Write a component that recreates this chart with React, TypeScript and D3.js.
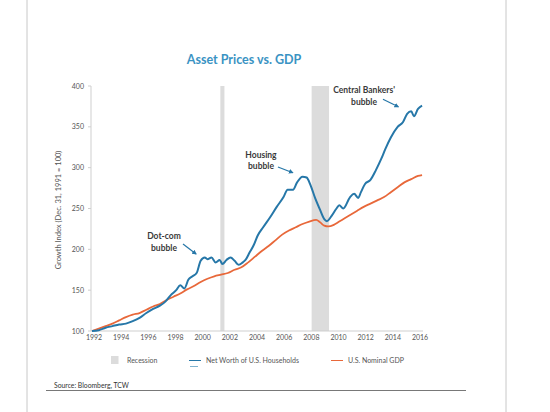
import React from "react";
import * as d3 from "d3";

const yearTicks = [1992, 1994, 1996, 1998, 2000, 2002, 2004, 2006, 2008, 2010, 2012, 2014, 2016];
const valueTicks = [100, 150, 200, 250, 300, 350, 400];

const netWorthYears = [1992.0, 1992.5, 1993.0, 1993.5, 1994.0, 1994.5, 1995.0, 1995.5, 1996.0, 1996.5, 1997.0, 1997.4, 1997.8, 1998.2, 1998.5, 1998.8, 1999.1, 1999.4, 1999.7, 2000.0, 2000.3, 2000.5, 2000.8, 2001.1, 2001.4, 2001.6, 2001.9, 2002.2, 2002.5, 2002.8, 2003.1, 2003.3, 2003.6, 2003.9, 2004.2, 2004.6, 2005.1, 2005.6, 2006.1, 2006.4, 2006.8, 2007.1, 2007.5, 2007.8, 2008.1, 2008.4, 2008.8, 2009.1, 2009.3, 2009.6, 2010.0, 2010.2, 2010.5, 2011.0, 2011.3, 2011.6, 2011.8, 2012.1, 2012.5, 2012.9, 2013.3, 2013.6, 2014.0, 2014.5, 2014.9, 2015.2, 2015.5, 2015.7, 2016.0, 2016.3];
const netWorthValues = [100, 101, 104, 106, 108, 109, 112, 116, 122, 127, 131, 136, 144, 150, 156, 152, 163, 167, 171, 186, 190, 188, 190, 184, 187, 182, 187, 190, 186, 181, 184, 187, 196, 205, 217, 227, 239, 252, 264, 273, 273, 282, 289, 288, 278, 264, 248, 237, 234.5, 240, 250, 254, 250, 264, 268, 263, 270, 280, 285, 297, 311, 323, 337, 350, 356, 366, 369, 363, 372, 376];

const gdpYears = [1992.0, 1992.5, 1993.0, 1993.5, 1994.0, 1994.5, 1995.0, 1995.5, 1996.0, 1996.5, 1997.0, 1997.5, 1998.0, 1998.5, 1999.0, 1999.5, 2000.0, 2000.5, 2001.0, 2001.5, 2002.0, 2002.5, 2003.0, 2003.5, 2004.0, 2004.5, 2005.0, 2005.5, 2006.0, 2006.5, 2007.0, 2007.5, 2008.0, 2008.5, 2008.8, 2009.1, 2009.4, 2009.8, 2010.2, 2010.6, 2011.0, 2011.5, 2012.0, 2012.5, 2013.0, 2013.5, 2014.0, 2014.5, 2015.0, 2015.5, 2016.0, 2016.3];
const gdpValues = [100, 103, 106, 109, 113, 117, 120, 122, 126, 130, 133, 138, 142, 146, 151, 155, 160, 164, 167, 169, 171, 175, 178, 184, 191, 198, 204, 211, 218, 223, 227, 231, 234, 236, 233, 229, 228, 230, 234, 238, 242, 247, 252, 256, 260, 264, 270, 276, 282, 286, 290, 291];

const recessionStarts = [2001.45, 2008.17];
const recessionEnds = [2001.75, 2009.45];

const annotationLines = [["Dot-com", "bubble"], ["Housing", "bubble"], ["Central Bankers'", "bubble"]];
const annotationYears = [1997.3, 2004.44, 2012.03];
const annotationValues = [212.6, 312.4, 391.2];
const arrowFromYears = [1998.7, 2005.69, 2013.42];
const arrowFromValues = [206.5, 300.8, 383.7];
const arrowToYears = [1999.66, 2006.78, 2014.55];
const arrowToValues = [194.3, 293.8, 374.6];

const legendLabels = ["Recession", "Net Worth of U.S. Households", "U.S. Nominal GDP"];

const BLUE = "#2677a8";
const ORANGE = "#e8683a";
const GRAY = "#dcdcdc";
const FONT = "Lato, 'Open Sans', sans-serif";

export default function App() {
  const x = d3.scaleLinear().domain([1992, 2016]).range([92, 418]);
  const y = d3.scaleLinear().domain([100, 400]).range([331, 86]);

  const nw = netWorthYears.map((yr, i) => [yr, netWorthValues[i]] as [number, number]);
  const gdp = gdpYears.map((yr, i) => [yr, gdpValues[i]] as [number, number]);
  const line = d3
    .line<[number, number]>()
    .x((d) => x(d[0]))
    .y((d) => y(d[1]))
    .curve(d3.curveMonotoneX);

  return (
    <svg width={550} height={412} style={{ position: "absolute", left: 0, top: 0, background: "#fff" }}>
      <defs>
        <marker id="arr" viewBox="0 0 10 10" refX="8" refY="5" markerWidth="4" markerHeight="4" orient="auto">
          <path d="M0,0 L10,5 L0,10 z" fill={BLUE} />
        </marker>
      </defs>
      <rect x={0} y={0} width={550} height={412} fill="#fff" />
      <line x1={27} x2={27} y1={0} y2={412} stroke="#c8c8c8" strokeWidth={1} />
      <line x1={506} x2={506} y1={0} y2={412} stroke="#c8c8c8" strokeWidth={1} />

      <text x={244} y={64} textAnchor="middle" fontFamily={FONT} fontWeight="bold" fontSize={12.5} fill="#3a93c3">
        Asset Prices vs. GDP
      </text>

      {recessionStarts.map((s, i) => (
        <rect key={i} x={x(s)} y={86} width={x(recessionEnds[i]) - x(s)} height={245} fill={GRAY} />
      ))}

      <line x1={91} x2={91} y1={86} y2={331} stroke="#cfcfcf" strokeWidth={1} />
      <line x1={91} x2={423} y1={331} y2={331} stroke="#cfcfcf" strokeWidth={1} />

      {valueTicks.map((v) => (
        <g key={v}>
          <line x1={88} x2={91} y1={y(v)} y2={y(v)} stroke="#cfcfcf" />
          <text x={84} y={y(v) + 2.5} textAnchor="end" fontFamily={FONT} fontSize={7} fill="#555">
            {v}
          </text>
        </g>
      ))}
      {yearTicks.map((t) => (
        <text key={t} x={x(t) + 2} y={340} textAnchor="middle" fontFamily={FONT} fontSize={7} fill="#555">
          {t}
        </text>
      ))}

      <text
        transform={`translate(61,210) rotate(-90)`}
        textAnchor="middle"
        fontFamily={FONT}
        fontSize={7.5}
        fill="#555"
      >
        Growth Index (Dec. 31, 1991 = 100)
      </text>

      <path d={line(gdp) || ""} fill="none" stroke={ORANGE} strokeWidth={1.8} />
      <path d={line(nw) || ""} fill="none" stroke={BLUE} strokeWidth={2} />

      {annotationLines.map((lines, i) => (
        <g key={i}>
          {lines.map((l, j) => (
            <text
              key={j}
              x={x(annotationYears[i])}
              y={y(annotationValues[i]) + j * 11.8}
              textAnchor="middle"
              fontFamily={FONT}
              fontWeight="bold"
              fontSize={8.5}
              fill="#3a3a3a"
            >
              {l}
            </text>
          ))}
          <line
            x1={x(arrowFromYears[i])}
            y1={y(arrowFromValues[i])}
            x2={x(arrowToYears[i])}
            y2={y(arrowToValues[i])}
            stroke={BLUE}
            strokeWidth={1.2}
            markerEnd="url(#arr)"
          />
        </g>
      ))}

      <rect x={111} y={356} width={7.5} height={8} fill={GRAY} />
      <text x={127} y={362.5} fontFamily={FONT} fontSize={7} fill="#555">
        {legendLabels[0]}
      </text>
      <line x1={189} x2={201} y1={360.5} y2={360.5} stroke={BLUE} strokeWidth={1} />
      <line x1={190} x2={198} y1={366.5} y2={366.5} stroke="#7fb3cf" strokeWidth={1} />
      <text x={206} y={362.5} fontFamily={FONT} fontSize={7} fill="#555">
        {legendLabels[1]}
      </text>
      <line x1={331} x2={343} y1={360.5} y2={360.5} stroke={ORANGE} strokeWidth={1} />
      <text x={348} y={362.5} fontFamily={FONT} fontSize={7} fill="#555">
        {legendLabels[2]}
      </text>

      <text x={54} y={388} fontFamily={FONT} fontSize={6.8} fill="#333">
        Source: Bloomberg, TCW
      </text>
      <line x1={46} x2={466} y1={390.5} y2={390.5} stroke="#555" strokeWidth={0.8} />
    </svg>
  );
}
